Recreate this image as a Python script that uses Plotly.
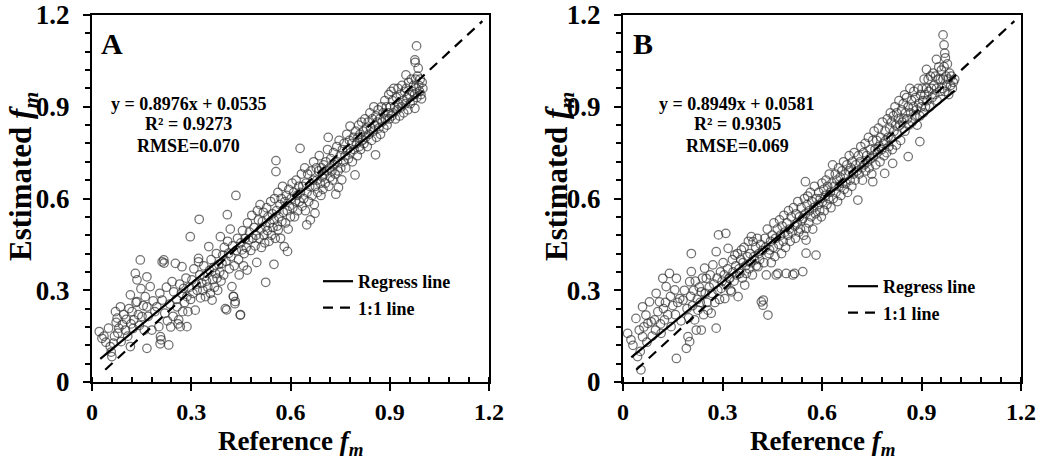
import plotly.graph_objects as go

# ---------------- data ----------------
ptsA = [
    (0.022,0.165),(0.030,0.143),(0.036,0.150),(0.042,0.130),(0.050,0.176),(0.055,0.116),(0.058,0.098),(0.060,0.083),
    (0.065,0.127),(0.068,0.150),(0.071,0.230),(0.073,0.195),(0.076,0.209),(0.078,0.160),(0.081,0.176),(0.086,0.246),
    (0.088,0.132),(0.092,0.188),(0.096,0.220),(0.101,0.170),
    (0.104,0.205),(0.108,0.150),(0.112,0.240),(0.116,0.285),(0.116,0.116),(0.118,0.190),(0.121,0.230),(0.124,0.175),
    (0.126,0.203),(0.131,0.355),(0.133,0.260),(0.136,0.334),(0.136,0.263),(0.140,0.220),(0.143,0.185),(0.146,0.399),
    (0.148,0.305),(0.151,0.214),(0.155,0.250),(0.158,0.170),(0.161,0.279),(0.166,0.344),(0.166,0.246),(0.166,0.110),
    (0.170,0.215),(0.176,0.312),(0.181,0.170),(0.185,0.265),(0.190,0.230),(0.196,0.246),
    (0.202,0.181),(0.205,0.290),(0.207,0.148),(0.209,0.138),(0.206,0.125),(0.212,0.393),(0.217,0.399),(0.218,0.389),
    (0.212,0.268),(0.220,0.225),(0.225,0.310),(0.228,0.200),(0.232,0.121),(0.235,0.255),(0.238,0.180),(0.242,0.328),
    (0.245,0.215),(0.247,0.295),(0.252,0.388),(0.255,0.270),(0.257,0.246),(0.260,0.190),(0.262,0.203),(0.265,0.320),
    (0.267,0.181),(0.270,0.290),(0.272,0.377),(0.274,0.230),(0.277,0.306),(0.280,0.260),(0.284,0.340),(0.287,0.279),
    (0.287,0.181),(0.290,0.230),(0.294,0.310),(0.297,0.475),(0.298,0.270),
    (0.302,0.334),(0.305,0.290),(0.308,0.370),(0.312,0.235),(0.315,0.320),(0.318,0.300),(0.322,0.404),(0.322,0.393),
    (0.324,0.532),(0.326,0.350),(0.328,0.275),(0.332,0.323),(0.335,0.300),(0.338,0.380),(0.340,0.345),(0.343,0.279),
    (0.346,0.330),(0.350,0.310),(0.353,0.443),(0.355,0.365),(0.358,0.290),(0.360,0.400),(0.363,0.268),(0.365,0.335),
    (0.368,0.375),(0.370,0.310),(0.373,0.355),(0.376,0.420),(0.378,0.340),(0.380,0.300),(0.383,0.385),(0.386,0.360),
    (0.388,0.475),(0.390,0.330),(0.393,0.388),(0.395,0.415),(0.398,0.350),(0.400,0.440),
    (0.403,0.240),(0.405,0.395),(0.407,0.236),(0.409,0.547),(0.410,0.460),(0.413,0.421),(0.415,0.370),(0.418,0.500),
    (0.420,0.410),(0.423,0.312),(0.425,0.445),(0.427,0.280),(0.428,0.279),(0.430,0.380),(0.432,0.256),(0.433,0.263),
    (0.435,0.610),(0.436,0.430),(0.440,0.470),(0.443,0.400),(0.445,0.350),(0.448,0.219),(0.449,0.220),(0.450,0.455),
    (0.453,0.432),(0.455,0.495),(0.458,0.380),(0.460,0.420),(0.463,0.470),(0.466,0.440),(0.469,0.366),(0.470,0.520),
    (0.474,0.465),(0.476,0.490),(0.480,0.430),(0.483,0.545),(0.486,0.470),(0.490,0.505),(0.493,0.445),(0.496,0.480),
    (0.498,0.391),(0.500,0.560),
    (0.503,0.530),(0.505,0.470),(0.508,0.580),(0.510,0.500),(0.512,0.440),(0.515,0.525),(0.518,0.555),(0.520,0.480),
    (0.522,0.455),(0.525,0.326),(0.525,0.510),(0.528,0.570),(0.530,0.495),(0.532,0.540),(0.535,0.460),(0.537,0.520),
    (0.540,0.590),(0.542,0.480),(0.545,0.550),(0.547,0.505),(0.550,0.385),(0.550,0.530),(0.552,0.600),(0.554,0.470),
    (0.556,0.724),(0.556,0.688),(0.558,0.560),(0.560,0.510),(0.562,0.620),(0.563,0.498),(0.565,0.540),(0.568,0.580),
    (0.570,0.470),(0.572,0.600),(0.574,0.525),(0.576,0.640),(0.578,0.555),(0.581,0.443),(0.583,0.590),(0.585,0.520),
    (0.588,0.610),(0.590,0.560),(0.591,0.427),(0.593,0.500),(0.595,0.630),(0.597,0.575),(0.600,0.540),
    (0.602,0.600),(0.605,0.650),(0.607,0.570),(0.610,0.620),(0.612,0.540),(0.615,0.590),(0.617,0.660),(0.620,0.610),
    (0.622,0.560),(0.625,0.640),(0.627,0.590),(0.629,0.764),(0.630,0.620),(0.633,0.680),(0.635,0.575),(0.637,0.640),
    (0.640,0.600),(0.643,0.700),(0.645,0.560),(0.647,0.650),(0.649,0.514),(0.650,0.620),(0.652,0.680),(0.655,0.590),
    (0.658,0.640),(0.660,0.530),(0.662,0.690),(0.665,0.610),(0.668,0.660),(0.670,0.720),(0.672,0.580),(0.674,0.552),
    (0.675,0.640),(0.678,0.700),(0.680,0.660),(0.682,0.620),(0.685,0.690),(0.687,0.740),(0.690,0.650),(0.692,0.610),
    (0.694,0.700),(0.696,0.670),(0.698,0.630),(0.700,0.710),
    (0.702,0.680),(0.705,0.650),(0.707,0.720),(0.710,0.690),(0.712,0.760),(0.714,0.800),(0.716,0.640),(0.718,0.700),
    (0.720,0.670),(0.722,0.730),(0.725,0.690),(0.727,0.660),(0.730,0.750),(0.732,0.710),(0.735,0.680),(0.737,0.614),
    (0.740,0.770),(0.742,0.720),(0.744,0.690),(0.745,0.636),(0.747,0.790),(0.750,0.740),(0.752,0.700),(0.755,0.661),
    (0.757,0.760),(0.760,0.720),(0.762,0.780),(0.765,0.740),(0.767,0.700),(0.770,0.810),(0.772,0.760),(0.775,0.730),
    (0.778,0.790),(0.780,0.837),(0.782,0.750),(0.785,0.780),(0.787,0.720),(0.790,0.800),(0.792,0.760),(0.795,0.677),
    (0.797,0.820),(0.799,0.780),
    (0.802,0.740),(0.804,0.800),(0.806,0.840),(0.808,0.770),(0.810,0.810),(0.812,0.760),(0.815,0.850),(0.817,0.790),
    (0.820,0.820),(0.822,0.780),(0.825,0.860),(0.827,0.800),(0.830,0.830),(0.832,0.770),(0.835,0.850),(0.837,0.810),
    (0.840,0.880),(0.842,0.830),(0.845,0.790),(0.847,0.860),(0.850,0.820),(0.852,0.900),(0.855,0.840),(0.857,0.743),
    (0.858,0.870),(0.860,0.800),(0.862,0.850),(0.865,0.890),(0.867,0.830),(0.870,0.860),(0.872,0.810),(0.875,0.900),
    (0.877,0.850),(0.880,0.880),(0.882,0.830),(0.885,0.920),(0.887,0.860),(0.890,0.900),(0.892,0.840),(0.895,0.880),
    (0.897,0.940),(0.899,0.860),
    (0.902,0.900),(0.904,0.950),(0.906,0.870),(0.908,0.920),(0.910,0.880),(0.912,0.960),(0.915,0.900),(0.917,0.860),
    (0.920,0.930),(0.922,0.890),(0.925,0.960),(0.927,0.910),(0.930,0.870),(0.932,0.940),(0.935,0.900),(0.937,0.970),
    (0.940,0.920),(0.942,0.880),(0.945,0.950),(0.947,0.910),(0.949,1.004),(0.950,0.960),(0.952,0.930),(0.955,0.890),
    (0.957,0.980),(0.960,0.940),(0.962,0.910),(0.965,0.990),(0.967,0.950),(0.970,0.920),(0.972,0.970),(0.975,0.940),
    (0.976,1.053),(0.976,0.895),(0.977,1.045),(0.978,0.990),(0.980,0.960),(0.981,1.099),(0.982,0.930),(0.984,1.000),
    (0.986,1.026),(0.988,0.970),(0.990,0.950),(0.992,0.990),(0.994,0.940),(0.996,0.926),(0.998,0.980),(1.000,0.960),
]

ptsB = [
    (0.014,0.159),(0.024,0.138),(0.030,0.120),(0.039,0.208),(0.044,0.083),(0.049,0.170),(0.052,0.100),(0.054,0.040),
    (0.059,0.246),(0.059,0.148),(0.063,0.180),(0.069,0.219),(0.072,0.130),(0.075,0.192),(0.080,0.262),(0.085,0.197),
    (0.088,0.150),(0.095,0.203),(0.098,0.170),
    (0.100,0.290),(0.105,0.230),(0.110,0.262),(0.113,0.190),(0.115,0.159),(0.120,0.339),(0.122,0.240),(0.125,0.203),
    (0.128,0.260),(0.130,0.312),(0.135,0.220),(0.140,0.355),(0.143,0.280),(0.145,0.181),(0.150,0.250),(0.156,0.301),
    (0.158,0.220),(0.161,0.339),(0.161,0.077),(0.165,0.260),(0.171,0.273),(0.175,0.200),(0.181,0.268),(0.185,0.300),
    (0.191,0.110),(0.193,0.240),(0.196,0.148),(0.198,0.210),
    (0.201,0.132),(0.201,0.328),(0.204,0.280),(0.206,0.420),(0.206,0.361),(0.210,0.250),(0.213,0.300),(0.216,0.203),
    (0.218,0.330),(0.221,0.170),(0.224,0.270),(0.226,0.235),(0.230,0.310),(0.233,0.260),(0.236,0.295),(0.236,0.170),
    (0.240,0.340),(0.243,0.220),(0.246,0.372),(0.248,0.290),(0.251,0.339),(0.253,0.260),(0.256,0.235),(0.260,0.310),
    (0.263,0.350),(0.266,0.225),(0.268,0.290),(0.271,0.383),(0.274,0.320),(0.277,0.260),(0.281,0.176),(0.281,0.426),
    (0.284,0.340),(0.286,0.300),(0.288,0.481),(0.291,0.270),(0.294,0.360),(0.296,0.306),(0.299,0.330),
    (0.302,0.390),(0.305,0.350),(0.307,0.273),(0.310,0.486),(0.312,0.320),(0.315,0.370),(0.317,0.437),(0.320,0.340),
    (0.322,0.339),(0.324,0.300),(0.327,0.295),(0.330,0.400),(0.332,0.360),(0.335,0.330),(0.337,0.415),(0.340,0.380),
    (0.343,0.350),(0.345,0.420),(0.347,0.279),(0.350,0.370),(0.352,0.355),(0.355,0.400),(0.357,0.432),(0.360,0.340),
    (0.362,0.390),(0.365,0.440),(0.367,0.317),(0.370,0.380),(0.372,0.355),(0.375,0.410),(0.378,0.460),(0.380,0.370),
    (0.383,0.420),(0.385,0.390),(0.387,0.475),(0.390,0.350),(0.392,0.459),(0.395,0.410),(0.397,0.399),(0.400,0.440),
    (0.402,0.380),(0.405,0.470),(0.407,0.377),(0.410,0.420),(0.412,0.400),(0.415,0.450),(0.417,0.262),(0.420,0.430),
    (0.422,0.251),(0.423,0.268),(0.425,0.390),(0.428,0.470),(0.430,0.440),(0.432,0.350),(0.435,0.500),(0.437,0.219),
    (0.440,0.420),(0.442,0.432),(0.445,0.460),(0.447,0.390),(0.450,0.480),(0.453,0.440),(0.455,0.520),(0.458,0.410),
    (0.460,0.470),(0.462,0.350),(0.465,0.500),(0.467,0.355),(0.470,0.450),(0.472,0.530),(0.475,0.480),(0.478,0.420),
    (0.480,0.510),(0.483,0.460),(0.485,0.545),(0.488,0.490),(0.490,0.440),(0.492,0.355),(0.494,0.520),(0.497,0.480),
    (0.499,0.560),
    (0.502,0.500),(0.504,0.460),(0.507,0.540),(0.510,0.490),(0.512,0.350),(0.514,0.570),(0.517,0.355),(0.518,0.510),
    (0.520,0.470),(0.522,0.550),(0.525,0.520),(0.527,0.590),(0.530,0.490),(0.532,0.540),(0.535,0.500),(0.537,0.570),
    (0.540,0.530),(0.542,0.361),(0.542,0.535),(0.545,0.480),(0.547,0.600),(0.550,0.655),(0.550,0.550),(0.552,0.421),
    (0.552,0.464),(0.552,0.502),(0.555,0.580),(0.557,0.608),(0.560,0.520),(0.562,0.560),(0.565,0.620),(0.567,0.540),
    (0.570,0.590),(0.572,0.500),(0.575,0.570),(0.577,0.640),(0.580,0.550),(0.582,0.415),(0.583,0.600),(0.585,0.530),
    (0.588,0.580),(0.590,0.620),(0.593,0.560),(0.595,0.600),(0.598,0.540),(0.600,0.650),
    (0.602,0.590),(0.605,0.630),(0.607,0.560),(0.610,0.610),(0.612,0.660),(0.615,0.580),(0.617,0.640),(0.620,0.600),
    (0.622,0.680),(0.625,0.620),(0.627,0.570),(0.630,0.650),(0.632,0.710),(0.634,0.600),(0.637,0.640),(0.640,0.680),
    (0.642,0.620),(0.645,0.660),(0.647,0.590),(0.650,0.700),(0.652,0.640),(0.655,0.670),(0.657,0.610),(0.660,0.690),
    (0.662,0.650),(0.665,0.720),(0.667,0.630),(0.670,0.680),(0.672,0.650),(0.675,0.710),(0.677,0.620),(0.680,0.690),
    (0.682,0.740),(0.685,0.660),(0.687,0.700),(0.690,0.640),(0.692,0.720),(0.695,0.680),(0.697,0.750),(0.700,0.660),
    (0.702,0.710),(0.705,0.690),(0.708,0.595),(0.710,0.740),(0.712,0.680),(0.715,0.720),(0.717,0.770),(0.720,0.700),
    (0.722,0.660),(0.725,0.750),(0.727,0.710),(0.730,0.780),(0.732,0.690),(0.735,0.740),(0.737,0.720),(0.740,0.800),
    (0.742,0.700),(0.745,0.760),(0.747,0.730),(0.750,0.680),(0.753,0.655),(0.753,0.790),(0.755,0.740),(0.757,0.820),
    (0.760,0.760),(0.762,0.710),(0.765,0.790),(0.767,0.750),(0.770,0.830),(0.772,0.770),(0.775,0.720),(0.777,0.800),
    (0.780,0.760),(0.782,0.850),(0.785,0.780),(0.787,0.740),(0.789,0.682),(0.790,0.820),(0.792,0.790),(0.795,0.750),
    (0.797,0.860),(0.799,0.800),
    (0.802,0.770),(0.804,0.830),(0.806,0.880),(0.808,0.800),(0.810,0.850),(0.812,0.760),(0.813,0.715),(0.815,0.870),
    (0.817,0.820),(0.820,0.900),(0.822,0.840),(0.824,0.775),(0.825,0.880),(0.827,0.810),(0.830,0.860),(0.832,0.920),
    (0.835,0.840),(0.837,0.790),(0.840,0.890),(0.842,0.850),(0.845,0.910),(0.847,0.860),(0.849,0.939),(0.850,0.820),
    (0.852,0.880),(0.855,0.930),(0.857,0.860),(0.860,0.737),(0.860,0.900),(0.862,0.840),(0.865,0.960),(0.867,0.880),
    (0.870,0.920),(0.872,0.850),(0.875,0.900),(0.877,0.950),(0.880,0.870),(0.882,0.930),(0.885,0.890),(0.887,0.840),
    (0.890,0.960),(0.892,0.910),(0.895,0.786),(0.895,0.870),(0.897,0.940),(0.899,0.900),
    (0.902,0.960),(0.904,0.920),(0.906,0.880),(0.908,0.990),(0.910,0.940),(0.912,0.900),(0.915,1.022),(0.915,0.960),
    (0.917,0.920),(0.920,0.990),(0.922,0.950),(0.925,0.900),(0.927,1.000),(0.930,0.960),(0.932,0.930),(0.935,1.010),
    (0.937,0.970),(0.940,0.940),(0.942,1.000),(0.945,1.055),(0.945,0.960),(0.947,0.920),(0.950,0.990),(0.952,1.030),
    (0.955,0.950),(0.957,0.990),(0.960,1.020),(0.962,0.960),(0.965,1.135),(0.965,0.990),(0.968,1.102),(0.968,1.031),
    (0.970,1.075),(0.970,0.950),(0.972,1.060),(0.974,1.000),(0.976,0.970),(0.978,1.040),(0.980,0.990),(0.982,0.940),
    (0.985,1.010),(0.988,0.970),(0.990,1.000),(0.993,0.960),(0.996,0.980),(1.000,0.990),
]

refA = [p[0] for p in ptsA]
estA = [p[1] for p in ptsA]
refB = [p[0] for p in ptsB]
estB = [p[1] for p in ptsB]

slopeA, interceptA = 0.8976, 0.0535
slopeB, interceptB = 0.8949, 0.0581
reg_x = [0.025, 1.0]          # extent of regression lines
one_x = [0.04, 1.18]          # extent of 1:1 lines

tick_vals = [0, 0.3, 0.6, 0.9, 1.2]
tick_text = ["0", "0.3", "0.6", "0.9", "1.2"]

statsA = ["y = 0.8976x + 0.0535", "R² = 0.9273", "RMSE=0.070"]
statsB = ["y = 0.8949x + 0.0581", "R² = 0.9305", "RMSE=0.069"]

# ---------------- figure ----------------
W, H = 1037, 463
FONT = "Liberation Serif"
pxA = (92, 489)
pxB = (623, 1021)
py = (15, 382)

fig = go.Figure()

marker = dict(symbol="circle-open", size=8.5, color="rgba(45,45,45,0.68)", line=dict(width=1.25))

def add_panel(xs, ys, slope, icpt, xa, ya, leg):
    fig.add_trace(go.Scatter(x=xs, y=ys, mode="markers", marker=marker, showlegend=False,
                             xaxis=xa, yaxis=ya, hoverinfo="skip"))
    fig.add_trace(go.Scatter(x=reg_x, y=[slope * v + icpt for v in reg_x], mode="lines",
                             line=dict(color="black", width=2.2), name="Regress line",
                             legend=leg, legendgroup=leg + "r", xaxis=xa, yaxis=ya))
    fig.add_trace(go.Scatter(x=one_x, y=one_x, mode="lines",
                             line=dict(color="black", width=2.2, dash="10px,7px"), name="1:1 line",
                             legend=leg, legendgroup=leg + "o", xaxis=xa, yaxis=ya))

add_panel(refA, estA, slopeA, interceptA, "x", "y", "legend")
add_panel(refB, estB, slopeB, interceptB, "x2", "y2", "legend2")

xtickfont = dict(family=FONT, size=24, color="black", weight="bold")
ytickfont = dict(family=FONT, size=27, color="black", weight="bold")

def xaxis(dom, anchor):
    return dict(domain=dom, anchor=anchor, range=[0, 1.2], tickmode="array", tickvals=tick_vals,
                ticktext=tick_text, ticks="outside", ticklen=7, tickwidth=2, tickcolor="black",
                showline=True, linewidth=2, linecolor="black", mirror=True, showgrid=False,
                zeroline=False, tickfont=xtickfont, ticklabelstandoff=0, automargin=False,
                ticklabeloverflow="allow",
                minor=dict(tickmode="linear", tick0=0, dtick=0.06, ticks="inside", ticklen=5,
                           tickwidth=1.5, tickcolor="black", showgrid=False))

def yaxis(dom, anchor):
    return dict(domain=dom, anchor=anchor, range=[0, 1.2], tickmode="array", tickvals=tick_vals,
                ticktext=tick_text, ticks="outside", ticklen=7, tickwidth=2, tickcolor="black",
                showline=True, linewidth=2, linecolor="black", mirror=True, showgrid=False,
                zeroline=False, tickfont=ytickfont, ticklabelstandoff=8, automargin=False,
                ticklabeloverflow="allow",
                minor=dict(tickmode="linear", tick0=0, dtick=0.06, ticks="outside", ticklen=5,
                           tickwidth=1.5, tickcolor="black", showgrid=False))

ydom = [1 - py[1] / H, 1 - py[0] / H]
legfont = dict(family=FONT, size=18, color="black", weight="bold")

fig.update_layout(
    width=W, height=H, margin=dict(l=0, r=0, t=0, b=0),
    paper_bgcolor="white", plot_bgcolor="white",
    xaxis=xaxis([pxA[0] / W, pxA[1] / W], "y"),
    yaxis=yaxis(ydom, "x"),
    xaxis2=xaxis([pxB[0] / W, pxB[1] / W], "y2"),
    yaxis2=yaxis(ydom, "x2"),
    legend=dict(x=318 / W, y=1 - 263 / H, xanchor="left", yanchor="top", font=legfont,
                bgcolor="rgba(0,0,0,0)", tracegroupgap=5, itemwidth=30, traceorder="normal"),
    legend2=dict(x=843 / W, y=1 - 268 / H, xanchor="left", yanchor="top", font=legfont,
                 bgcolor="rgba(0,0,0,0)", tracegroupgap=5, itemwidth=30, traceorder="normal"),
    showlegend=True,
)

annots = []
# panel letters
for lab, xr, yr in [("A", "x", "y"), ("B", "x2", "y2")]:
    annots.append(dict(text=lab, x=0.06, y=1.108, xref=xr, yref=yr, showarrow=False,
                       xanchor="center", yanchor="middle",
                       font=dict(family=FONT, size=30, color="black", weight="bold")))
# statistics text
for stats, xr, yr, cx in [(statsA, "x", "y", 0.293), (statsB, "x2", "y2", 0.345)]:
    for s, yy in zip(stats, [0.909, 0.844, 0.772]):
        annots.append(dict(text=s, x=cx, y=yy, xref=xr, yref=yr, showarrow=False,
                           xanchor="center", yanchor="middle",
                           font=dict(family=FONT, size=18, color="black", weight="bold")))
# axis titles
xtfont = dict(family=FONT, size=27, color="black", weight="bold")
ytfont = dict(family=FONT, size=31, color="black", weight="bold")
for cx in [(pxA[0] + pxA[1]) / 2, (pxB[0] + pxB[1]) / 2]:
    annots.append(dict(text="Reference <i>f</i><sub><i>m</i></sub>", x=cx / W, y=1 - 443 / H,
                       xref="paper", yref="paper", showarrow=False, xanchor="center",
                       yanchor="middle", font=xtfont))
for cx in [23, 559]:
    annots.append(dict(text="Estimated <i>f</i><sub><i>m</i></sub>", x=cx / W, y=1 - 177 / H,
                       xref="paper", yref="paper", showarrow=False, textangle=-90,
                       xanchor="center", yanchor="middle", font=ytfont))
fig.update_layout(annotations=annots)

fig.write_html("out.html")
